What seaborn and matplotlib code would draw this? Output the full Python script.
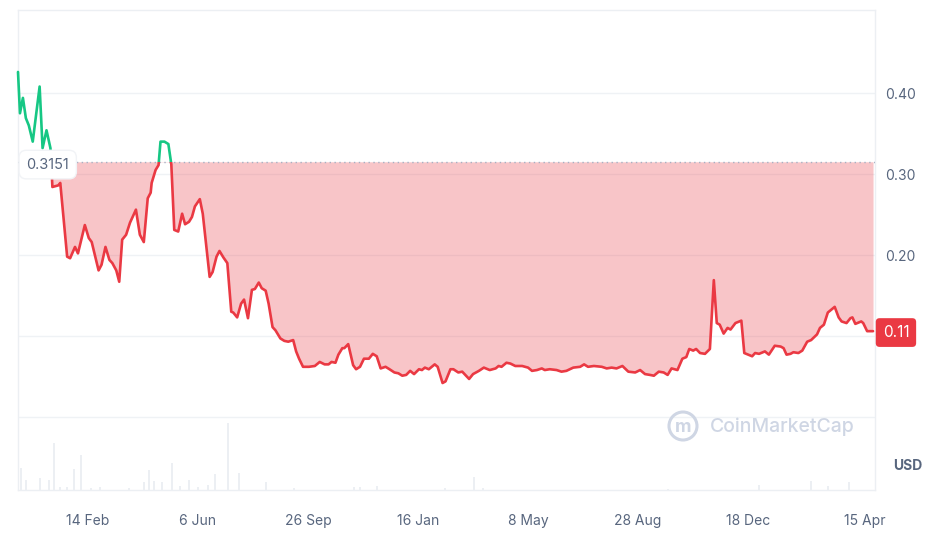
import pandas as pd
import matplotlib.pyplot as plt
import matplotlib.dates as mdates
from matplotlib.patches import Rectangle, Circle
from matplotlib.transforms import IdentityTransform
import seaborn as sns

# Price history (USD)
dates = [
    "2021-12-05", "2021-12-07", "2021-12-10", "2021-12-13", "2021-12-16", "2021-12-20",
    "2021-12-27", "2021-12-30", "2022-01-03", "2022-01-07", "2022-01-09", "2022-01-15",
    "2022-01-17", "2022-01-24", "2022-01-27", "2022-02-01", "2022-02-04", "2022-02-11",
    "2022-02-15", "2022-02-18", "2022-02-25", "2022-02-28", "2022-03-04", "2022-03-08",
    "2022-03-11", "2022-03-15", "2022-03-18", "2022-03-21", "2022-03-25", "2022-03-29",
    "2022-04-04", "2022-04-08", "2022-04-12", "2022-04-16", "2022-04-19", "2022-04-20",
    "2022-04-24", "2022-04-27", "2022-04-29", "2022-05-03", "2022-05-07", "2022-05-10",
    "2022-05-13", "2022-05-17", "2022-05-21", "2022-05-24", "2022-05-28", "2022-05-31",
    "2022-06-03", "2022-06-08", "2022-06-11", "2022-06-18", "2022-06-21", "2022-06-25",
    "2022-06-28", "2022-07-02", "2022-07-06", "2022-07-10", "2022-07-12", "2022-07-16",
    "2022-07-20", "2022-07-23", "2022-07-27", "2022-07-31", "2022-08-03", "2022-08-07",
    "2022-08-10", "2022-08-14", "2022-08-17", "2022-08-21", "2022-08-24", "2022-08-29",
    "2022-09-02", "2022-09-06", "2022-09-11", "2022-09-14", "2022-09-17", "2022-09-21",
    "2022-09-27", "2022-10-03", "2022-10-08", "2022-10-13", "2022-10-17", "2022-10-20",
    "2022-10-24", "2022-10-27", "2022-10-31", "2022-11-02", "2022-11-06", "2022-11-11",
    "2022-11-14", "2022-11-18", "2022-11-22", "2022-11-27", "2022-12-01", "2022-12-05",
    "2022-12-09", "2022-12-14", "2022-12-18", "2022-12-23", "2022-12-27", "2022-12-31",
    "2023-01-04", "2023-01-08", "2023-01-12", "2023-01-17", "2023-01-20", "2023-01-23",
    "2023-01-27", "2023-02-02", "2023-02-05", "2023-02-10", "2023-02-13", "2023-02-18",
    "2023-02-21", "2023-02-26", "2023-03-02", "2023-03-09", "2023-03-13", "2023-03-19",
    "2023-03-24", "2023-03-30", "2023-04-05", "2023-04-08", "2023-04-11", "2023-04-16",
    "2023-04-20", "2023-04-25", "2023-05-02", "2023-05-08", "2023-05-12", "2023-05-17",
    "2023-05-22", "2023-05-25", "2023-05-30", "2023-06-06", "2023-06-11", "2023-06-16",
    "2023-06-23", "2023-06-30", "2023-07-04", "2023-07-08", "2023-07-14", "2023-07-22",
    "2023-07-27", "2023-08-01", "2023-08-06", "2023-08-12", "2023-08-18", "2023-08-25",
    "2023-08-30", "2023-09-04", "2023-09-09", "2023-09-13", "2023-09-18", "2023-09-23",
    "2023-09-27", "2023-10-01", "2023-10-07", "2023-10-12", "2023-10-16", "2023-10-19",
    "2023-10-23", "2023-10-26", "2023-10-30", "2023-11-04", "2023-11-09", "2023-11-13",
    "2023-11-16", "2023-11-19", "2023-11-23", "2023-11-27", "2023-11-30", "2023-12-05",
    "2023-12-11", "2023-12-14", "2023-12-18", "2023-12-22", "2023-12-25", "2023-12-29",
    "2024-01-04", "2024-01-08", "2024-01-14", "2024-01-20", "2024-01-23", "2024-01-26",
    "2024-01-30", "2024-02-02", "2024-02-07", "2024-02-11", "2024-02-16", "2024-02-20",
    "2024-02-26", "2024-02-29", "2024-03-04", "2024-03-08", "2024-03-12", "2024-03-15",
    "2024-03-19", "2024-03-22", "2024-03-27", "2024-03-31", "2024-04-02", "2024-04-05",
    "2024-04-11", "2024-04-13", "2024-04-17", "2024-04-23",
]
prices = [
    0.426, 0.375, 0.394, 0.369, 0.360, 0.340,
    0.408, 0.332, 0.354, 0.332, 0.284, 0.286,
    0.289, 0.198, 0.196, 0.210, 0.202, 0.237,
    0.221, 0.216, 0.181, 0.188, 0.210, 0.194,
    0.190, 0.181, 0.167, 0.219, 0.225, 0.240,
    0.256, 0.225, 0.216, 0.270, 0.277, 0.289,
    0.305, 0.311, 0.340, 0.340, 0.337, 0.312,
    0.231, 0.229, 0.251, 0.238, 0.241, 0.247,
    0.260, 0.269, 0.251, 0.173, 0.179, 0.198,
    0.205, 0.197, 0.190, 0.130, 0.129, 0.123,
    0.140, 0.145, 0.122, 0.157, 0.158, 0.166,
    0.159, 0.156, 0.140, 0.111, 0.107, 0.097,
    0.094, 0.093, 0.095, 0.081, 0.072, 0.062,
    0.062, 0.063, 0.068, 0.065, 0.065, 0.068,
    0.067, 0.077, 0.085, 0.085, 0.090, 0.064,
    0.059, 0.062, 0.072, 0.072, 0.078, 0.075,
    0.060, 0.062, 0.059, 0.055, 0.054, 0.051,
    0.052, 0.057, 0.053, 0.059, 0.058, 0.061,
    0.059, 0.065, 0.062, 0.042, 0.044, 0.059,
    0.059, 0.055, 0.056, 0.047, 0.053, 0.057,
    0.061, 0.058, 0.060, 0.063, 0.062, 0.067,
    0.066, 0.063, 0.063, 0.061, 0.057, 0.058,
    0.060, 0.058, 0.059, 0.058, 0.056, 0.057,
    0.061, 0.062, 0.065, 0.062, 0.063, 0.062,
    0.060, 0.061, 0.060, 0.063, 0.056, 0.055,
    0.058, 0.053, 0.052, 0.051, 0.056, 0.055,
    0.052, 0.060, 0.058, 0.072, 0.074, 0.084,
    0.082, 0.084, 0.079, 0.078, 0.084, 0.169,
    0.116, 0.114, 0.103, 0.110, 0.108, 0.116,
    0.119, 0.079, 0.077, 0.075, 0.079, 0.078,
    0.081, 0.077, 0.088, 0.087, 0.085, 0.077,
    0.078, 0.080, 0.079, 0.082, 0.093, 0.095,
    0.102, 0.110, 0.114, 0.129, 0.133, 0.136,
    0.123, 0.118, 0.116, 0.122, 0.123, 0.115,
    0.118, 0.116, 0.106, 0.106,
]

# Trading volume (relative units)
vol_dates = [
    "2021-12-08", "2021-12-13", "2021-12-27", "2022-01-06", "2022-01-11", "2022-01-17",
    "2022-01-24", "2022-01-31", "2022-02-07", "2022-02-17", "2022-02-26", "2022-03-28",
    "2022-04-12", "2022-04-17", "2022-04-22", "2022-05-01", "2022-05-11", "2022-05-19",
    "2022-05-28", "2022-06-06", "2022-06-16", "2022-06-23", "2022-07-07", "2022-07-18",
    "2022-08-14", "2022-09-12", "2022-11-12", "2022-11-18", "2022-12-05", "2023-02-12",
    "2023-03-14", "2023-03-23", "2023-09-27", "2023-12-29", "2024-02-20", "2024-03-08",
    "2024-03-30",
]
volumes = [
    21.7, 10.0, 11.7, 10.0, 46.7, 2.7,
    2.7, 21.0, 35.0, 1.7, 3.3, 1.7,
    8.3, 20.0, 9.0, 8.3, 26.7, 4.0,
    10.0, 2.7, 5.0, 16.0, 66.7, 17.3,
    8.3, 1.7, 3.3, 2.7, 4.0, 2.3,
    12.7, 1.7, 1.3, 5.0, 9.3, 4.0,
    8.3,
]

baseline = 0.3151
tick_dates = ["2022-02-14", "2022-06-06", "2022-09-26", "2023-01-16",
              "2023-05-08", "2023-08-28", "2023-12-18", "2024-04-15"]
tick_labels = ["14 Feb", "6 Jun", "26 Sep", "16 Jan", "8 May", "28 Aug", "18 Dec", "15 Apr"]
price_ticks = [0.20, 0.30, 0.40]
grid_levels = [0.0, 0.1, 0.2, 0.3, 0.4]

GREEN = "#16c784"
RED = "#ea3943"
GRID = "#eff2f5"
TXT = "#58667e"

sns.set_theme(style="white")
plt.rcParams["font.family"] = ["Inter", "DejaVu Sans"]

df = pd.DataFrame({"date": pd.to_datetime(dates), "price": prices})
vol = pd.DataFrame({"date": pd.to_datetime(vol_dates), "volume": volumes})

fig = plt.figure(figsize=(9.36, 5.44), dpi=100)
rect = [18 / 936, 54 / 544, 857 / 936, 480 / 544]

# volume bars in their own axes underneath
vax = fig.add_axes(rect)
vax.bar(vol["date"], vol["volume"], width=2.0, color="#eceff3", lw=0)
vax.set_ylim(0, 480)
vax.axis("off")

ax = fig.add_axes(rect, sharex=vax)
ax.patch.set_visible(False)

for lvl in grid_levels:
    ax.axhline(lvl, color=GRID, lw=1, zorder=0)

# price line, drawn twice and clipped above / below the baseline
sns.lineplot(data=df, x="date", y="price", ax=ax, color=RED, lw=1.9, zorder=4)
sns.lineplot(data=df, x="date", y="price", ax=ax, color=GREEN, lw=1.9, zorder=4)
red_line, green_line = ax.lines[-2], ax.lines[-1]

x0 = mdates.date2num(pd.Timestamp("2021-01-01"))
above = Rectangle((x0, baseline), 5000, 5, transform=ax.transData)
below = Rectangle((x0, baseline - 5), 5000, 5, transform=ax.transData)
green_line.set_clip_path(above)
red_line.set_clip_path(below)

fill = ax.fill_between(df["date"], df["price"], baseline, color=RED, alpha=0.29, lw=0, zorder=2)
fill.set_clip_path(Rectangle((x0, baseline - 5), 5000, 5, transform=ax.transData))

ax.axhline(baseline, color="#a6b0c3", lw=1, ls=(0, (1, 2.5)), zorder=3)

ax.set_xlim(pd.Timestamp("2021-12-05"), pd.Timestamp("2024-04-25"))
ax.set_ylim(-0.0901, 0.5025)

ax.set_xticks(pd.to_datetime(tick_dates))
ax.set_xticklabels(tick_labels)
ax.yaxis.tick_right()
ax.set_yticks(price_ticks)
ax.set_yticklabels([f"{v:.2f}" for v in price_ticks])
ax.tick_params(axis="x", length=0, pad=17, labelsize=10, labelcolor=TXT)
ax.tick_params(axis="y", length=0, pad=7, labelsize=10, labelcolor=TXT)
ax.set_xlabel("")
ax.set_ylabel("")
for s in ax.spines.values():
    s.set_color("#eceff3")
    s.set_linewidth(1)

# baseline label and last price badge
ax.annotate(f"{baseline:.4f}", xy=(0, baseline), xycoords=("axes fraction", "data"),
            xytext=(6, -2), textcoords="offset points", ha="left", va="center",
            fontsize=10.5, color=TXT, zorder=6,
            bbox=dict(boxstyle="round,pad=0.5,rounding_size=0.5", fc="white", ec="#f1f3f6", lw=1))
ax.annotate(f"{prices[-1]:.2f}", xy=(1, prices[-1]), xycoords=("axes fraction", "data"),
            xytext=(5.5, -1), textcoords="offset points", ha="left", va="center",
            fontsize=11, color="white", zorder=6, annotation_clip=False,
            bbox=dict(boxstyle="round,pad=0.45,rounding_size=0.25", fc=RED, ec="none"))

fig.text(908 / 936, 1 - 466 / 544, "USD", ha="center", va="center",
         fontsize=10, fontweight="bold", color=TXT)

# watermark
fig.text(782 / 936, 1 - 427 / 544, "CoinMarketCap", ha="center", va="center",
         fontsize=14, fontweight="medium", color="#cfd6e4")
fig.add_artist(Circle((683, 544 - 426), 14, transform=IdentityTransform(),
                      fill=False, ec="#cfd6e4", lw=2.2))
fig.text(683 / 936, 1 - 427 / 544, "m", ha="center", va="center",
         fontsize=13, fontweight="bold", color="#cfd6e4")

fig.savefig("out.png", dpi=100)
